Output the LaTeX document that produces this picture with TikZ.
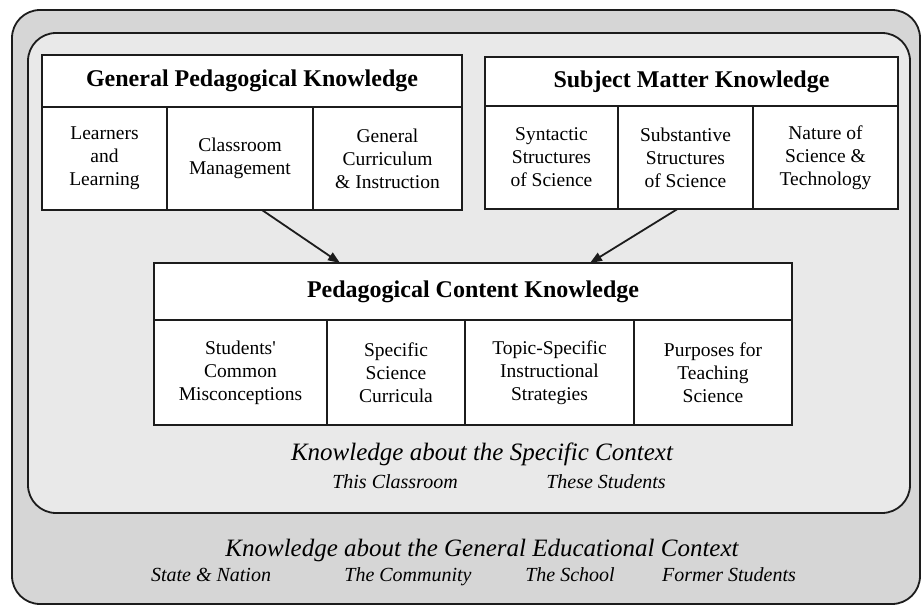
\documentclass[tikz,border=0pt]{standalone}
\usepackage{fontspec}
\setmainfont{Liberation Serif}
\usetikzlibrary{arrows.meta, positioning}
\definecolor{outerbg}{RGB}{214,214,214}
\definecolor{innerbg}{RGB}{233,233,233}
\definecolor{ink}{RGB}{28,28,28}
\tikzset{%
	head/.style={draw=ink, line width=1.6pt, fill=white, inner sep=0pt, outer sep=0pt,%
		anchor=north west, font=\fontsize{24}{28}\selectfont\bfseries},
	cell/.style={draw=ink, line width=1.6pt, fill=white, inner sep=0pt, outer sep=0pt,%
		align=center, font=\fontsize{19.5}{23}\selectfont},
	ctx/.style={draw=ink, line width=1.8pt, rounded corners=28pt},
	ctxtitle/.style={anchor=base, font=\fontsize{25}{29}\selectfont\itshape},
	ctxitem/.style={anchor=base, font=\fontsize{20}{24}\selectfont\itshape},
	sel/.style={-{Triangle[length=12pt,width=9pt]}, line width=1.8pt, draw=ink}
}

\begin{document}
\begin{tikzpicture}[x=1pt, y=-1pt]
	\useasboundingbox (0,0) rectangle (922,607);
	% context frames
	\draw[ctx, fill=outerbg] (12,10) rectangle (920,604);
	\draw[ctx, fill=innerbg] (28,33) rectangle (910,513);

	% general pedagogical knowledge
	\node[head, minimum width=420pt, minimum height=52pt] (gpk) at (42,55) {General Pedagogical Knowledge};
	\node[cell, minimum width=125pt, minimum height=103pt, below right=0pt and 0pt of gpk.south west] (gpk1) {Learners\\and\\Learning};
	\node[cell, minimum width=146pt, minimum height=103pt, right=0pt of gpk1] (gpk2) {Classroom\\Management};
	\node[cell, minimum width=149pt, minimum height=103pt, right=0pt of gpk2] (gpk3) {General\\Curriculum\\\& Instruction};

	% subject matter knowledge
	\node[head, minimum width=413pt, minimum height=49pt] (smk) at (485,57) {Subject Matter Knowledge};
	\node[cell, minimum width=133pt, minimum height=103pt, below right=0pt and 0pt of smk.south west] (smk1) {Syntactic\\Structures\\of Science};
	\node[cell, minimum width=135pt, minimum height=103pt, right=0pt of smk1] (smk2) {Substantive\\Structures\\of Science};
	\node[cell, minimum width=145pt, minimum height=103pt, right=0pt of smk2] (smk3) {Nature of\\Science \&\\Technology};

	% pedagogical content knowledge
	\node[head, minimum width=638pt, minimum height=57pt] (pck) at (154,263) {Pedagogical Content Knowledge};
	\node[cell, minimum width=173pt, minimum height=105pt, below right=0pt and 0pt of pck.south west] (pck1) {Students\textquotesingle\\Common\\Misconceptions};
	\node[cell, minimum width=138pt, minimum height=105pt, right=0pt of pck1] (pck2) {Specific\\Science\\Curricula};
	\node[cell, minimum width=169pt, minimum height=105pt, right=0pt of pck2] (pck3) {Topic-Specific\\Instructional\\Strategies};
	\node[cell, minimum width=158pt, minimum height=105pt, right=0pt of pck3] (pck4) {Purposes for\\Teaching\\Science};

	\draw[sel] ([xshift=22pt]gpk2.south) -- ([xshift=-133pt]pck.north);
	\draw[sel] ([xshift=-8pt]smk2.south) -- ([xshift=117pt]pck.north);

	% specific context
	\node[ctxtitle] (spec) at (482,460) {Knowledge about the Specific Context};
	\node[ctxitem] (room) at (395,488) {This Classroom};
	\node[ctxitem] (stud) at (606,488) {These Students};

	% general educational context
	\node[ctxtitle] (gen) at (482,556) {Knowledge about the General Educational Context};
	\node[ctxitem] (nation) at (211,581) {State \& Nation};
	\node[ctxitem] (comm) at (408,581) {The Community};
	\node[ctxitem] (school) at (570,581) {The School};
	\node[ctxitem] (former) at (729,581) {Former Students};
\end{tikzpicture}
\end{document}
